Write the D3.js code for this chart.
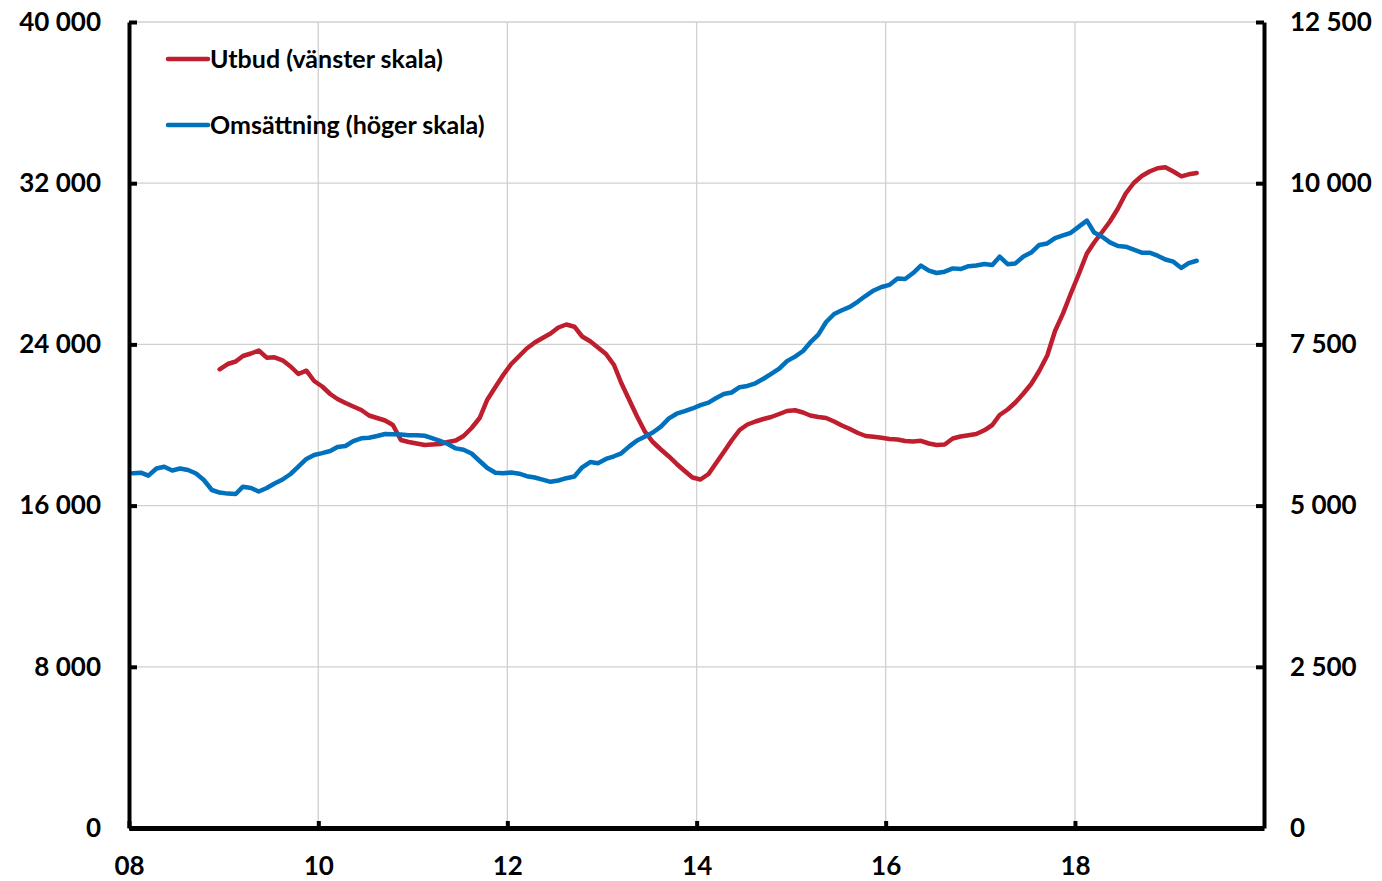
<!DOCTYPE html>
<html><head><meta charset="utf-8">
<script src="https://cdn.jsdelivr.net/npm/d3@7"></script>
<style>
body{margin:0;background:#fff}
svg{display:block}
text{font-family:Lato,"Open Sans",sans-serif;font-weight:700;fill:#000}
</style>
</head><body>
<svg id="c" width="1382" height="881"></svg>
<script>
// ---- data ----
const startYear = 2008;
const xTickYears = [2008, 2010, 2012, 2014, 2016, 2018];
const xTickLabels = ["08", "10", "12", "14", "16", "18"];
const leftTicks = [0, 8000, 16000, 24000, 32000, 40000];
const rightTicks = [0, 2500, 5000, 7500, 10000, 12500];
const seriesNames = ["Utbud (vänster skala)", "Omsättning (höger skala)"];
const seriesColors = ["#BE1E2D", "#0071BC"];

// Utbud, monthly from Jan 2008 (left scale)
const utbud = [
  null,null,null,null,null,null,null,null,null,null,null,
  22764,23027,23151,23424,23548,23697,23340,23360,23211,22903,22531,22695,22184,
  21911,21538,21290,21092,20918,20744,20471,20347,20223,20000,19256,19156,
  19082,19007,19032,19057,19156,19231,19454,19851,20347,21266,21886,22481,
  23027,23424,23797,24094,24318,24541,24839,24988,24878,24392,24154,23846,
  23524,22978,22084,21241,20422,19653,19156,18784,18437,18065,17717,17395,
  17295,17568,18089,18660,19231,19752,20025,20174,20298,20397,20546,20695,
  20730,20620,20471,20397,20347,20174,19975,19801,19603,19454,19414,19365,
  19305,19280,19206,19181,19216,19082,19007,19032,19330,19429,19494,19553,
  19737,20000,20496,20769,21117,21563,22035,22680,23449,24665,25538,26526,
  27494,28511,29057,29578,30099,30744,31489,32010,32357,32581,32744,32789,
  32581,32342,32442,32506
];
// Omsättning, monthly from Jan 2008 (right scale)
const omsattning = [
  5501,5510,5464,5575,5603,5544,5575,5552,5498,5397,5242,5202,
  5186,5180,5293,5273,5219,5273,5343,5405,5490,5603,5723,5785,
  5813,5847,5909,5924,5999,6044,6053,6079,6110,6107,6101,6090,
  6090,6083,6048,6005,5955,5887,5865,5808,5692,5583,5510,5502,
  5513,5495,5456,5436,5402,5369,5389,5425,5451,5594,5676,5658,
  5723,5765,5811,5918,6010,6072,6134,6225,6352,6425,6464,6506,
  6557,6597,6664,6731,6754,6836,6855,6897,6967,7044,7123,7240,
  7311,7398,7530,7652,7847,7972,8030,8083,8165,8254,8336,8390,
  8424,8521,8514,8607,8721,8643,8607,8628,8679,8669,8713,8725,
  8747,8733,8860,8744,8756,8863,8924,9042,9066,9147,9192,9231,
  9327,9419,9235,9170,9082,9026,9015,8970,8922,8922,8876,8817,
  8783,8685,8759,8797
];

// ---- layout ----
const L = 129, R = 1264, T = 22, B = 828;
const svg = d3.select("#c");
const dates = omsattning.map((_, i) => new Date(startYear, i, 16));
const x = d3.scaleTime().domain([new Date(2008, 0, 1), new Date(2020, 0, 1)]).range([L, R]);
const yL = d3.scaleLinear().domain([0, 40000]).range([B, T]);
const yR = d3.scaleLinear().domain([0, 12500]).range([B, T]);
const loc = d3.formatLocale({decimal: ",", thousands: " ", grouping: [3], currency: ["", ""]});
const fmt = loc.format(",d");

// gridlines
const grid = svg.append("g").attr("stroke", "#d0d0d0").attr("stroke-width", 1.3);
grid.selectAll("line.h").data(leftTicks.filter(d => d > 0)).join("line")
  .attr("x1", L).attr("x2", R).attr("y1", d => yL(d)).attr("y2", d => yL(d));
grid.selectAll("line.v").data(xTickYears.filter(d => d > 2008)).join("line")
  .attr("y1", T).attr("y2", B).attr("x1", d => x(new Date(d, 0, 1))).attr("x2", d => x(new Date(d, 0, 1)));

// lines
const lineL = d3.line().defined(d => d[1] != null).x(d => x(d[0])).y(d => yL(d[1]));
const lineR = d3.line().defined(d => d[1] != null).x(d => x(d[0])).y(d => yR(d[1]));
svg.append("path").datum(dates.map((d, i) => [d, utbud[i]]))
  .attr("fill", "none").attr("stroke", seriesColors[0]).attr("stroke-width", 4.5)
  .attr("stroke-linejoin", "round").attr("stroke-linecap", "round").attr("d", lineL);
svg.append("path").datum(dates.map((d, i) => [d, omsattning[i]]))
  .attr("fill", "none").attr("stroke", seriesColors[1]).attr("stroke-width", 4.5)
  .attr("stroke-linejoin", "round").attr("stroke-linecap", "round").attr("d", lineR);

// axes
const fs = 26;
const gL = svg.append("g").attr("transform", `translate(${L},0)`)
  .call(d3.axisLeft(yL).tickValues(leftTicks).tickFormat(fmt).tickSize(-8).tickSizeOuter(0).tickPadding(28));
const gR = svg.append("g").attr("transform", `translate(${R},0)`)
  .call(d3.axisRight(yR).tickValues(rightTicks).tickFormat(fmt).tickSize(-8).tickSizeOuter(0).tickPadding(26));
const gB = svg.append("g").attr("transform", `translate(0,${B})`)
  .call(d3.axisBottom(x).tickValues(xTickYears.map(y => new Date(y, 0, 1)))
    .tickFormat((d, i) => xTickLabels[i]).tickSize(-7).tickSizeOuter(0).tickPadding(29));
[gL, gR, gB].forEach(g => {
  g.select(".domain").attr("stroke", "#000").attr("stroke-width", 4);
  g.selectAll(".tick line").attr("stroke", "#000").attr("stroke-width", 4);
  g.selectAll(".tick text").attr("font-size", fs).attr("font-family", "Lato,'Open Sans',sans-serif").attr("font-weight", 700);
});
gB.select(".domain").attr("stroke-width", 5);

// legend
const leg = svg.append("g");
seriesNames.forEach((n, i) => {
  const yy = 59 + i * 66;
  leg.append("line").attr("x1", 168).attr("x2", 208).attr("y1", yy).attr("y2", yy)
    .attr("stroke", seriesColors[i]).attr("stroke-width", 4.5).attr("stroke-linecap", "round");
  leg.append("text").attr("x", 210).attr("y", yy).attr("dy", "0.35em")
    .attr("font-size", 25).text(n);
});
</script>
</body></html>
